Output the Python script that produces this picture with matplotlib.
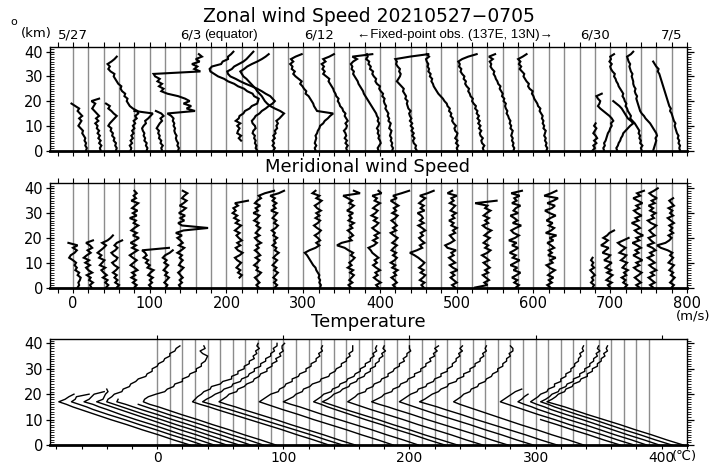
import numpy as np
import matplotlib
matplotlib.use("Agg")
import matplotlib.pyplot as plt
from matplotlib.ticker import MultipleLocator, FixedLocator

plt.rcParams['font.family'] = ['DejaVu Sans']

# ---------------------------------------------------------------------------
# Radiosonde profiles 2021-05-27 .. 2021-07-05, one launch per day index.
# Each profile is drawn shifted right by (day * step) on a shared axis.
# ---------------------------------------------------------------------------
N_DAYS = 40
WIND_STEP = 20      # m/s per day
TEMP_STEP = 10      # degC per day

# Zonal wind (m/s), 1 km vertical spacing starting at the listed height (km)
zonal_days = [1, 2, 3, 4, 5, 6, 7, 11, 12, 13, 16, 18, 20, 21, 23, 25, 27, 29,
              31, 34, 35, 36, 37, 38, 39]
zonal_start = [0, 0, 0, 0, 0, 0, 0, 4, 0, 0, 0, 0, 0, 0, 0, 0, 0, 0,
               0, 0, 0, 0, 0, 0, 0]
zonal_u = [
    [-3, -2, -4, -3, -5, -4, -6, -8, -7, -10, -13, -11, -9, -12, -8, -11, -14, -12, -17, -22],
    [-4, -5, -3, -6, -4, -7, -5, -8, -6, -9, -8, -11, -7, -10, -6, -9, -12, -15, -13, -11, -16, -6],
    [-4, -3, -5, -4, -7, -6, -9, -8, -11, -10, -14, -12, -9, -6, -3, -7, -10, -14, -12, -17],
    [-5, -4, -6, -3, -5, -2, -4, -1, -3, 0, -2, 1, -1, 3, 1, 5, 4, -2, -6, -8, -10, -9, -13, -12,
     -16, -18, -17, -21, -23, -25, -27, -26, -31, -34, -32, -35, -30, -26, -23],
    [-4, -3, -5, -4, -7, -6, -8, -7, -9, -10, -8, -5, -6, -2, 1, 4, -20],
    [-4, -5, -3, -6, -5, -8, -7, -9, -8, -11, -9, -7, -4, -6, -2, -5, -12],
    [-3, -2, -4, -3, -5, -6, -5, -7, -8, -7, -9, -8, -10, -9, -12, -17, 19, 8, 14, 4, 12, 6, -3,
     -17, -25, -22, -28, -24, -30, -27, -33, -35, 26, 18, 22, 15, 25, 20, 28, 24],
    [-1, -4, -1, -6, -5, -3, -6, -2, -8, -4, -3, 2, 4, 10, 13, 20, 21, 22, 16, 14, 7, 3, -5, -10,
     -18, -23, -31, -36, -41, -42, -39, -27, -25, -18, -18, -14, -11],
    [0, -2, -1, -3, -2, -4, -3, -6, -5, -2, -3, -6, -7, -4, -2, 3, 6, 11, 15, 20, 23, 20, 17, 11,
     6, 0, -7, -15, -22, -28, -35, -38, -39, -33, -30, -24, -18, -14, -11, -8, -5],
    [1, 3, 0, 2, 0, 3, 1, 4, 3, 6, 5, 7, 5, 9, 12, 15, 10, 3, -3, -7, -10, -12, -14, -17, -20,
     -22, -25, -28, -31, -34, -38, -40, -42, -37, -33, -27, -20, -14, -9, -5],
    [-4, -5, -3, -5, -4, -3, -4, -2, -1, 1, 2, 6, 8, 12, 15, 19, -2, -4, -6, -7, -9, -11, -13,
     -17, -16, -19, -21, -24, -22, -26, -30, -33, -31, -35, -34, -37, -33, -36, -30, -22],
    [-3, -4, -2, -5, -3, -6, -4, -5, -7, -4, -3, -5, -2, -4, -6, -5, -8, -9, -12, -13, -15, -14,
     -17, -18, -20, -21, -23, -25, -27, -26, -30, -34, -32, -35, -33, -36, -31, -34, -26, -20],
    [-2, -3, -1, 1, 0, -2, -1, -3, -2, -4, -2, -1, -3, -2, -4, -5, -7, -9, -11, -13, -15, -17,
     -19, -21, -22, -24, -26, -28, -29, -31, -33, -35, -34, -37, -36, -38, -35, -30, -36, -10],
    [-4, -3, -5, -4, -6, -5, -7, -6, -5, -8, -7, -6, -9, -8, -10, -9, -11, -13, -12, -14, -15,
     -14, -17, -16, -19, -21, -20, -24, -26, -25, -28, -30, -29, -33, -32, -35, -34, -38, -36, -37],
    [-12, -14, -13, -16, -17, -15, -18, -16, -19, -17, -20, -18, -21, -19, -21, -22, -20, -23,
     -24, -25, -24, -27, -26, -28, -30, -29, -32, -35, -38, -36, -34, -33, -35, -34, -37, -39,
     -38, -40, -21, 3],
    [1, 0, 2, -1, 1, -2, 0, 1, -2, -3, -1, -4, -6, -5, -8, -7, -10, -9, -12, -13, -16, -18, -21,
     -24, -26, -28, -30, -31, -33, -32, -35, -34, -37, -36, -38, -37, -39, -40, -36, -39],
    [-5, -6, -4, -7, -8, -6, -9, -10, -8, -11, -9, -12, -10, -13, -11, -14, -13, -16, -15, -18,
     -20, -19, -22, -23, -25, -24, -27, -29, -28, -31, -30, -33, -35, -34, -37, -36, -38, -33,
     -25, -14],
    [-6, -5, -7, -6, -8, -7, -9, -8, -7, -10, -9, -11, -10, -12, -13, -15, -14, -16, -17, -16,
     -19, -18, -21, -20, -22, -24, -23, -26, -27, -29, -30, -32, -31, -34, -36, -35, -37, -33,
     -38, -30],
    [-3, -2, -4, -3, -5, -4, -6, -5, -4, -7, -6, -8, -7, -9, -8, -10, -12, -11, -14, -15, -17,
     -19, -20, -22, -21, -25, -27, -26, -29, -31, -33, -32, -35, -38, -36, -39, -37, -40, -34, -29],
    [-3, 0, -2, 2, -1, 3, 1, -2, 0, 2, -1, 1],
    [-8, -9, -7, -8, -6, -5, -4, -3, -1, 0, 2, 1, 4, 2, -1, -5, -9, -13, -16, -14, -13, -16, -18, -11],
    [-11, -12, -10, -9, -7, -6, -4, -3, 0, 3, 6, 10, 7, 3, 1, -1, -3, -5, -8, -12, -16],
    [1, 0, 2, -1, 0, -2, -1, -3, -2, -4, -6, -8, -11, -14, -13, -15, -17, -18, -20, -19, -21,
     -22, -24, -23, -25, -27, -29, -30, -32, -33, -35, -34, -37, -39, -40, -38, -41, -39, -40, -35],
    [-4, -3, -2, -1, 0, -1, 1, 0, -2, -4, -6, -8, -11, -14, -16, -19, -21, -22, -23, -24, -25,
     -26, -25, -27, -28, -27, -29, -30, -30, -31, -32, -31, -33, -34, -35, -34, -36, -37, -38,
     -33, -30],
    [11, 10, 11, 9, 10, 8, 9, 7, 6, 5, 4, 5, 3, 2, 1, 0, -2, -1, -3, -4, -5, -6, -7, -8, -9,
     -10, -11, -12, -13, -14, -15, -16, -18, -17, -20, -22, -24],
]

# Meridional wind (m/s), 1 km vertical spacing starting at the listed height (km)
merid_days = [0, 1, 2, 3, 4, 5, 6, 7, 11, 12, 13, 16, 18, 20, 21, 23, 25, 27, 29, 31,
              34, 35, 36, 37, 38, 39]
merid_start = [0, 0, 0, 0, 0, 0, 0, 0, 4, 0, 0, 0, 0, 0, 0, 0, 0, 0, 0, 0,
               0, 0, 0, 0, 0, 0]
merid_v = [
    [6, 8, 7, 9, 10, 6, 8, 3, 5, 2, 4, 0, -5, -3, 2, 5, 0, 6, -6],
    [4, 2, 6, 1, 3, -2, 5, 0, -3, 2, -4, 1, -6, -2, 3, -1, 5, 2, -3, 6],
    [3, 6, 2, 5, -1, 4, 0, -3, 2, -5, -2, 1, -6, -3, -8, -4, 0, 3, -2, 5, 9, 12],
    [-3, 0, -5, -2, -6, -3, -8, -4, -1, -6, -9, -4, -2, -7, -10, -5, -2, -6, -3, 4],
    [0, 3, -2, 2, -4, 1, -3, 4, 0, -5, -1, 3, -2, -6, -1, 4, -3, 2, -5, 1, 6, -2, 3, -4, 0, 5,
     -1, 2, -6, 3, -2, 4, -3, 1, 5, -4, 2, -1, 3, 0],
    [2, -1, 3, 0, 4, -2, 1, 5, -3, 0, -5, -2, -8, -4, -6, -10, 25],
    [1, 3, -1, 2, 5, 0, 3, -2, 1, 4, -1, 2, -3, 0, 6, 10],
    [0, -2, 2, -1, 3, 0, -3, 1, 4, -2, 0, 3, -1, 2, -4, 1, 5, -2, 3, 0, -4, 2, -6, 4, 36, 2, -3,
     5, 0, 6, -2, 3, 7, -1, 4, 8, 2, 5, 9, 3],
    [-3, 0, -5, -2, -7, -4, -1, -6, -9, -3, 1, -5, -8, -2, -6, 0, -4, -7, -3, -9, -5, -1, -8,
     -4, -10, -6, -12, -8, -11, -5, -9, 8],
    [2, -1, 3, 0, -3, 2, 5, -1, 1, -4, 0, 3, -2, 4, 1, -3, 2, -1, 5, 0, -3, 3, -2, 1, 4, -1, 2,
     -4, 0, 3, -5, 1, -2, 4, -3, 0, 5, 2, 10, 22],
    [3, 6, 2, 5, 1, 4, 7, 2, 5, 0, 3, 6, 1, 4, 8, 3, 5, 0, 4, 2, 6, 1, 3, -1, 4, 7, 2, 5, 0, 3,
     6, -2, 4, 1, 5, 0, 3, -3, 8, 15],
    [2, 3, 1, 2, 0, 1, -1, -3, -4, -7, -9, -11, -13, -15, -18, -12, -4, 1, -3, 2, -1, -5, 0, 3,
     -2, -6, -1, 2, -4, 1, -3, 3, -2, -5, 0, 4, -3, 1, -8, -4],
    [2, -1, 4, 0, 3, 6, 1, 5, -2, 3, 0, 4, 7, 2, 5, -1, -6, -16, -10, 3, 0, 5, 2, -2, 4, 1, 6,
     -1, 3, 0, 5, -3, 2, 6, 0, 4, -2, -8, 14, 6],
    [-2, -5, 1, -4, -8, -3, -6, 0, -5, -9, -4, -7, -2, -6, -10, -12, -15, -8, -4, -9, -3, -7,
     -1, -6, -10, -5, -2, -8, -4, -11, -6, -3, -9, -5, 0, -7, -4, -10, 2, -2],
    [0, -3, 2, -1, -5, 1, -2, 3, -4, 0, -6, -1, 2, -3, 1, -5, -2, 2, -4, 0, 3, -2, -6, 1, -3, 2,
     -1, -5, 0, 3, -4, 1, -2, 4, -1, -6, 2, -3, 8, 18],
    [-3, -6, -2, -8, -4, -1, -7, -3, -9, -5, -2, -6, -10, -15, -21, -12, -5, -8, -2, -6, -9, -4,
     -7, -1, -5, -10, -3, -8, -4, -6, -11, -2, -7, -3, -9, -5, -1, -8, 2, 10],
    [-2, -6, 0, -4, -8, -3, -7, 1, -5, -9, -2, -6, -10, -4, -7, -1, -12, -15, -8, -3, -6, -9,
     -2, -5, 0, -7, -4, -10, -3, -6, -1, -8, -5, -2, -9, -4, -7, 0, -12, -6],
    [-16, 0, -4, 2, -2, -6, 1, -3, 3, -1, -5, 2, -2, -7, 0, 4, -3, 1, -5, -1, 3, -4, 0, 5, -2,
     -6, 1, -3, 2, -5, -1, 4, -3, 0, -16, 12],
    [-3, 1, -5, -1, -8, -2, 3, -6, -1, -10, -4, 2, -7, -3, -11, -5, 0, -8, -2, -12, -4, 1, -6,
     -9, -3, 4, -7, -1, -5, -10, 0, -6, -3, 3, -8, -2, -5, 2, -9, 5],
    [2, -2, 4, 0, 6, -1, 3, 8, 1, -3, 5, 2, 9, -1, 4, 0, 7, 3, -2, 6, 1, 10, -4, 3, 7, 0, 5, -3,
     2, 9, 1, -5, 4, 8, -2, 6, 12, -6, 3, 10],
    [-3, -1, -5, -2, -4, 0, -3, -6, -1, -4, -2, -5, -3],
    [0, -3, 2, -5, -1, 3, -4, 1, -6, -2, 2, -8, -3, 0, -10, -6, -2, -12, -7, -3, -9, -4, -1, 5],
    [-1, 2, -3, 0, -5, 1, -2, 3, -4, -1, 2, -6, -2, 1, -8, -4, 0, -6, -10, -3, 4],
    [-2, -6, 0, -4, -8, -3, 1, -5, -9, -2, -6, 2, -4, -10, -3, -7, 0, -5, -11, -2, -6, 3, -4,
     -8, -1, -5, -12, -3, -7, 1, -5, -9, -2, -6, 2, -4, -10, -1, -5, 4],
    [-4, -8, -2, -6, -10, -3, -7, 0, -5, -9, -2, -6, -11, -4, -8, -1, -5, -12, -3, -7, -10, -2,
     -6, -9, -4, 0, -7, -11, -3, -6, -1, -8, -4, -10, -2, -6, 1, -5, -9, -3, 2],
    [0, 3, -2, 1, 4, -1, 2, -3, 0, 3, -4, -1, 2, -2, 1, -5, -14, -19, -8, -3, 0, -4, 2, -2, 1,
     -3, 3, -1, -5, 2, -2, 1, -4, 3, 0, -3, 2],
]

# Temperature (degC) on a common height grid (km); profiles stop where data end
temp_heights = [0, 2, 4, 6, 8, 10, 12, 14, 15, 16, 17] + list(range(18, 41))
temp_days = [0, 1, 2, 3, 4, 5, 6, 7, 11, 12, 13, 16, 18, 20, 21, 23, 25, 27, 29, 31,
             34, 35, 36, 37, 38, 39]
temp_t = [
    [26, 13, 1, -12, -24, -37, -49, -61, -67, -72, -78, -73, -70, -66],
    [26, 14, 1, -11, -24, -36, -49, -61, -66, -72, -78, -75, -74, -64],
    [25, 13, 0, -12, -24, -37, -49, -60, -66, -71, -78, -74, -72, -70, -62],
    [25, 13, 1, -12, -24, -36, -48, -60, -66, -72, -78, -73, -72, -71, -69, -70],
    [25, 12, 0, -12, -25, -37, -50, -62, -68, -74, -80, -79, -76, -74, -68, -67, -62, -61, -57,
     -55, -49, -48, -44, -44, -40, -39, -35, -34, -30, -30, -26, -25, -22],
    [24, 12, 0, -13, -25, -38, -50, -63, -69, -75, -82, -81],
    [24, 12, -1, -13, -25, -38, -51, -63, -69, -75],
    [24, 12, -1, -13, -26, -38, -51, -63, -69, -76, -81, -80, -77, -71, -64, -62, -57, -56, -50,
     -50, -45, -44, -39, -39, -35, -35, -32, -31, -30, -34, -36, -32, -33],
    [26, 14, 1, -11, -24, -37, -50, -63, -69, -76, -82, -80, -78, -75, -73, -68, -67, -60, -58,
     -51, -51, -46, -46, -41, -41, -37, -37, -33, -34, -31, -32, -29, -31, -30],
    [27, 14, 2, -11, -24, -37, -50, -63, -70, -77, -84, -81, -77, -74, -69, -67, -61, -60, -54,
     -53, -48, -47, -43, -43, -38, -38, -34, -34, -30, -30, -27, -28, -25, -25],
    [27, 14, 2, -11, -24, -36, -49, -62, -68, -75, -81, -78, -75, -73, -67, -66, -61, -59, -54,
     -53, -49, -48, -43, -43, -39, -39, -35, -36, -32, -33, -30, -31, -31, -29],
    [27, 15, 2, -10, -23, -36, -48, -61, -67, -73, -79, -76, -73, -70, -64, -63, -59, -58, -53,
     -53, -48, -47, -42, -42, -38, -38, -34, -34, -31, -32, -29, -30, -29],
    [27, 15, 2, -10, -23, -36, -49, -61, -67, -74, -80, -76, -72, -70, -65, -64, -59, -57, -51,
     -50, -44, -43, -39, -38, -34, -34, -30, -30, -27, -28, -25, -25, -25],
    [28, 15, 3, -10, -22, -35, -47, -59, -65, -70, -76, -73, -70, -68, -62, -61, -56, -55, -50,
     -49, -44, -43, -39, -39, -35, -35, -31, -31, -28, -29, -26, -27, -26],
    [28, 15, 2, -10, -23, -35, -48, -61, -67, -73, -79, -75, -72, -70, -65, -63, -58, -57, -52,
     -51, -46, -45, -41, -41, -37, -37, -34, -34, -31, -32, -29, -31, -30],
    [28, 15, 3, -10, -23, -35, -48, -61, -67, -73, -79, -76, -73, -71, -65, -64, -59, -58, -53,
     -52, -47, -47, -43, -42, -38, -38, -34, -35, -32, -32, -29, -30, -30],
    [28, 15, 3, -10, -23, -36, -48, -61, -67, -74, -80, -76, -72, -70, -64, -63, -58, -57, -52,
     -51, -46, -46, -41, -41, -37, -37, -33, -34, -30, -31, -28, -30, -27],
    [28, 15, 3, -10, -22, -35, -48, -60, -66, -72, -78, -75, -72, -69, -64, -63, -57, -56, -51,
     -50, -45, -45, -40, -40, -36, -36, -33, -33, -30, -31, -28, -30, -28],
    [27, 14, 2, -11, -24, -37, -49, -62, -68, -75, -82, -78, -75, -72, -67, -65, -60, -59, -53,
     -52, -47, -47, -42, -42, -38, -38, -34, -34, -31, -32, -29, -30, -29],
    [28, 16, 3, -9, -22, -34, -46, -58, -64, -70, -75, -72, -69, -67, -62, -61, -56, -55, -50,
     -49, -45, -44, -40, -40, -36, -36, -33, -33, -30, -31, -28, -28, -30],
    [27, 14, 2, -11, -23, -36],
    [28, 15, 3, -10, -23, -35, -48, -60, -66, -72, -78, -75, -72, -69, -66, -61],
    [28, 16, 3, -9, -21, -34, -46, -58, -63, -69, -74, -71, -69, -66],
    [28, 16, 3, -9, -21, -33, -46, -58, -63, -69, -74, -71, -68, -66, -61, -60, -55, -55, -50,
     -50, -46, -46, -42, -42, -39, -39, -36, -36, -34, -35, -32, -33, -32],
    [28, 15, 3, -10, -22, -34, -47, -59, -65, -70, -76, -72, -69, -67, -62, -61, -56, -55, -50,
     -50, -45, -45, -41, -41, -37, -37, -34, -34, -31, -32, -29, -31, -30],
    [27, 14, 2, -11, -23, -36, -49, -61, -67, -74, -81, -77, -74, -72, -67, -66, -61, -60, -55,
     -54, -49, -49, -45, -45, -41, -41, -38, -38, -35, -36, -33, -34, -33],
]

date_labels = ["5/27", "6/3", "6/12", "6/30", "7/5"]
date_days = [0, 7, 16, 34, 39]

GRID = "#8c8c8c"
INK = "black"

fig = plt.figure(figsize=(7.09, 4.66), dpi=100)
ax_u = fig.add_axes([0.0705, 0.677, 0.8984, 0.2227])
ax_v = fig.add_axes([0.0705, 0.383, 0.8984, 0.2236])
ax_t = fig.add_axes([0.0705, 0.0451, 0.8984, 0.2268])


def style_height_axis(ax, top):
    ax.set_ylim(0, top)
    ax.yaxis.set_major_locator(FixedLocator([0, 10, 20, 30, 40]))
    ax.yaxis.set_minor_locator(MultipleLocator(1))
    ax.tick_params(axis="y", which="major", left=True, right=False, direction="inout",
                   length=6, width=0.9, labelsize=10.5, pad=2)
    ax.tick_params(axis="y", which="minor", left=True, right=False, direction="in",
                   length=3, width=0.6)
    for s in ax.spines.values():
        s.set_linewidth(1.0)
    ax.spines["bottom"].set_linewidth(2.0)
    # right-hand scale: ticks point outward
    rax = ax.twinx()
    rax.set_ylim(0, top)
    rax.yaxis.set_major_locator(FixedLocator([0, 10, 20, 30, 40]))
    rax.yaxis.set_minor_locator(MultipleLocator(1))
    rax.tick_params(axis="y", which="major", direction="out", length=5, width=0.9,
                    labelright=False)
    rax.tick_params(axis="y", which="minor", direction="out", length=3, width=0.6)
    for s in rax.spines.values():
        s.set_visible(False)


def draw_wind(ax, days, starts, values, labels):
    for d in range(N_DAYS):
        ax.axvline(d * WIND_STEP, color=GRID, lw=1.0, zorder=1)
    for d, z0, vals in zip(days, starts, values):
        z = z0 + np.arange(len(vals))
        ax.plot(d * WIND_STEP + np.asarray(vals, float), z, color=INK, lw=1.5, zorder=3,
                solid_joinstyle="miter")
    ax.set_xlim(-30, 800)
    ax.xaxis.set_major_locator(MultipleLocator(100))
    ax.xaxis.set_minor_locator(MultipleLocator(20))
    ax.tick_params(axis="x", which="both", top=True, bottom=True, direction="out",
                   length=3.5, width=0.8, labelsize=10.5, pad=2.5)
    if not labels:
        ax.tick_params(axis="x", labelbottom=False)
    style_height_axis(ax, 42)


draw_wind(ax_u, zonal_days, zonal_start, zonal_u, False)
draw_wind(ax_v, merid_days, merid_start, merid_v, True)

# temperature panel
for d in range(N_DAYS):
    ax_t.axvline(d * TEMP_STEP, color=GRID, lw=1.0, zorder=1)
for d, vals in zip(temp_days, temp_t):
    ax_t.plot(d * TEMP_STEP + np.asarray(vals, float), temp_heights[:len(vals)],
              color=INK, lw=1.0, zorder=3)
ax_t.set_xlim(-85, 420)
ax_t.xaxis.set_major_locator(MultipleLocator(100))
ax_t.xaxis.set_minor_locator(MultipleLocator(20))
ax_t.tick_params(axis="x", which="major", top=True, bottom=True, direction="out",
                 length=3, width=0.8, labelsize=10, pad=1.5)
ax_t.tick_params(axis="x", which="minor", top=False, bottom=True, direction="out",
                 length=3, width=0.8)
style_height_axis(ax_t, 41.6)

# titles and annotations
fig.text(0.52, 0.965, "Zonal wind Speed 20210527\u22120705", ha="center", va="center",
         fontsize=13.5)
fig.text(0.519, 0.642, "Meridional wind Speed", ha="center", va="center", fontsize=13)
fig.text(0.519, 0.309, "Temperature", ha="center", va="center", fontsize=13)
fig.text(0.02, 0.952, "o", ha="center", va="center", fontsize=8)
fig.text(0.051, 0.928, "(km)", ha="center", va="center", fontsize=9.5)
fig.text(0.977, 0.322, "(m/s)", ha="center", va="center", fontsize=9.5)
fig.text(0.966, 0.021, "(\u2103)", ha="center", va="center", fontsize=9.5)

for lab, d in zip(date_labels, date_days):
    x = fig.transFigure.inverted().transform(
        ax_u.transData.transform((d * WIND_STEP, 0)))[0]
    if lab == "6/3":
        fig.text(x, 0.925, "6/3", ha="left", va="center", fontsize=9.5)
        fig.text(x + 0.033, 0.925, "(equator)", ha="left", va="center", fontsize=9.5,
                 family=["Liberation Sans"])
    else:
        fig.text(x, 0.925, lab, ha="center", va="center", fontsize=9.5)
fig.text(0.641, 0.925, "\u2190Fixed-point obs. (137E, 13N)\u2192", ha="center",
         va="center", fontsize=9.5, family=["Liberation Sans", "DejaVu Sans"])

fig.savefig("out.png", dpi=100)
